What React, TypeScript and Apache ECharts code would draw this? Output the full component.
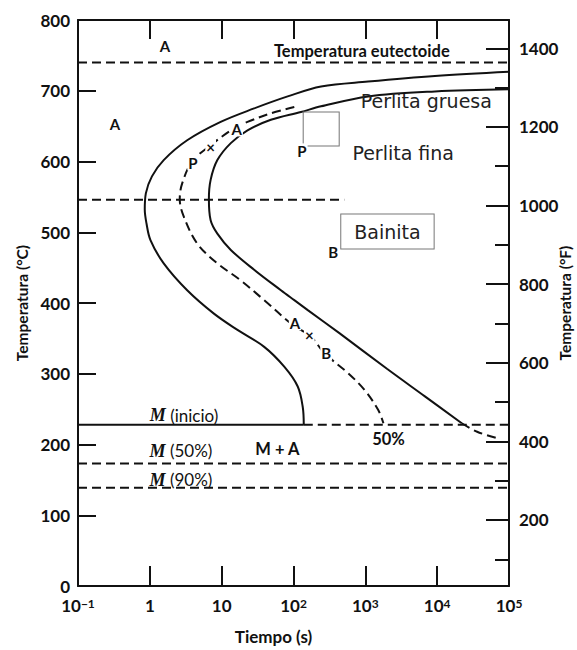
import React, { useEffect, useRef } from "react";
import * as echarts from "echarts";

// ---- axis ranges and tick labels ----
const timeRange = [0.1, 100000];
const celsiusRange = [0, 800];
const fahrenheitRange = [32, 1472];
const xTickLabels = ["10{s|−1}", "1", "10", "10{s|2}", "10{s|3}", "10{s|4}", "10{s|5}"];

// ---- curves: [time (s), temperature (°C)] ----
const startCurve: [number, number][] = [
  [100000, 727], [9310, 721], [1091, 713], [242, 706], [83, 692], [28.3, 675],
  [9.68, 656], [3.31, 630], [1.56, 602], [1.07, 579], [0.88, 555], [0.85, 532],
  [0.9, 512], [1.02, 489], [1.56, 456], [3.31, 418], [7.8, 385], [16.6, 362],
  [39.1, 338], [74.3, 310], [114.5, 282], [134.5, 253], [139, 228],
];
const finishCurve: [number, number][] = [
  [100000, 702], [9310, 699], [1091, 692], [242, 678], [127, 670], [48.4, 659],
  [22.9, 644], [13.4, 626], [8.71, 602], [7.02, 574], [6.64, 547], [7.02, 517],
  [8.71, 498], [13.4, 475], [28.3, 447], [66.8, 418], [102.6, 404], [158, 390],
  [440, 357], [2000, 307], [6750, 268], [22000, 230],
];
const finishBelowMs: [number, number][] = [[22000, 230], [36000, 218], [68000, 209]];
const halfCurve: [number, number][] = [
  [102.6, 677], [48.4, 668], [22.9, 656], [14.9, 647], [7.02, 623], [3.89, 600],
  [2.82, 569], [2.61, 547], [2.97, 522], [4.57, 484], [8.71, 456], [18.4, 432],
  [39.1, 404], [92.3, 371], [176, 352], [270, 329], [573, 301], [977, 277],
  [1506, 249], [1786, 230],
];

// ---- horizontal reference temperatures (°C) ----
const eutectoidTemp = 740;
const noseTemp = 546;
const noseLineEndTime = 508;
const msTemp = 228;
const msSolidEndTime = 139;
const m50Temp = 173;
const m90Temp = 139;

// ---- annotations: [time, temperature] ----
const letterMarks = [
  { text: "A", t: 1.62, T: 763 },
  { text: "A", t: 0.326, T: 653 },
  { text: "P", t: 3.99, T: 598 },
  { text: "×", t: 7.02, T: 621 },
  { text: "A", t: 16.2, T: 646 },
  { text: "P", t: 131, T: 615 },
  { text: "B", t: 357, T: 472 },
  { text: "A", t: 105, T: 372 },
  { text: "×", t: 166, T: 355 },
  { text: "B", t: 285, T: 329 },
];
const plainMarks = [
  { text: "Temperatura eutectoide", t: 893, T: 756 },
  { text: "M + A", t: 59.7, T: 194 },
  { text: "50%", t: 2099, T: 208 },
];
const martensiteMarks = [
  { text: "{m|M} (inicio)", t: 2.99, T: 241 },
  { text: "{m|M} (50%)", t: 2.71, T: 191 },
  { text: "{m|M} (90%)", t: 2.71, T: 150 },
];
const phaseMarks = [
  { text: "Perlita gruesa", t: 7063, T: 685 },
  { text: "Perlita fina", t: 3365, T: 612 },
];
const boxedMarks = [{ text: "Bainita", t: 2032, T: 501 }];
const emptyBox = [{ t: 243, T: 646 }];

const INK = "#111";
const SANS = "Lato";

function lineSeries(data: [number, number][], dashed: boolean) {
  return {
    type: "line",
    data,
    showSymbol: false,
    symbol: "none",
    smooth: 0.35,
    lineStyle: { color: INK, width: 2, type: dashed ? [9, 5] : "solid" },
    z: 3,
    silent: true,
  };
}

function hLine(temp: number, from: number, to: number, dashed: boolean) {
  return {
    type: "line",
    data: [[from, temp], [to, temp]],
    showSymbol: false,
    symbol: "none",
    lineStyle: { color: INK, width: 2, type: dashed ? [9, 5] : "solid" },
    z: 3,
    silent: true,
  };
}

function labelSeries(marks: { text: string; t: number; T: number }[], label: any, z = 5) {
  return {
    type: "scatter",
    symbolSize: 1,
    itemStyle: { color: "rgba(255,255,255,0)", opacity: 1 },
    silent: true,
    z,
    data: marks.map((m) => ({ value: [m.t, m.T], label: { formatter: m.text } })),
    label: {
      show: true,
      position: "inside",
      opacity: 1,
      textBorderWidth: 0,
      textBorderColor: "transparent",
      ...label,
    },
  };
}

export default function App() {
  const ref = useRef<HTMLDivElement>(null);
  useEffect(() => {
    if (!ref.current) return;
    const chart = echarts.init(ref.current, undefined, { renderer: "svg" });
    const axisFont = { fontFamily: SANS, fontWeight: "bold", fontSize: 17, color: INK };
    chart.setOption({
      animation: false,
      backgroundColor: "#fff",
      grid: { left: 78, right: 68, top: 20, bottom: 64, outerBoundsMode: "none", containLabel: false },
      xAxis: [
        {
          type: "log",
          logBase: 10,
          min: timeRange[0],
          max: timeRange[1],
          splitNumber: 6,
          position: "bottom",
          axisLine: { lineStyle: { color: INK, width: 2 } },
          axisTick: { inside: true, length: 20, lineStyle: { color: INK, width: 2 } },
          splitLine: { show: false },
          axisLabel: {
            ...axisFont,
            margin: 11,
            formatter: (v: number) => xTickLabels[Math.round(Math.log10(v)) + 1] ?? "",
            rich: { s: { fontFamily: SANS, fontWeight: "bold", fontSize: 12, verticalAlign: "top", color: INK } },
          },
          name: "Tiempo (s)",
          nameLocation: "middle",
          nameGap: 42,
          nameMoveOverlap: false,
          nameTextStyle: { ...axisFont, fontSize: 17, padding: [0, 40, 0, 0] },
        },
        {
          type: "log",
          logBase: 10,
          min: timeRange[0],
          max: timeRange[1],
          splitNumber: 6,
          position: "top",
          axisLine: { lineStyle: { color: INK, width: 2 } },
          axisTick: { inside: true, length: 19, lineStyle: { color: INK, width: 2 } },
          splitLine: { show: false },
          axisLabel: { show: false },
        },
      ],
      yAxis: [
        {
          type: "value",
          min: celsiusRange[0],
          max: celsiusRange[1],
          interval: 100,
          position: "left",
          axisLine: { show: true, lineStyle: { color: INK, width: 2 } },
          axisTick: { show: true, inside: true, length: 18, lineStyle: { color: INK, width: 2 } },
          splitLine: { show: false },
          axisLabel: { ...axisFont, margin: 8 },
          name: "Temperatura (°C)",
          nameLocation: "middle",
          nameRotate: 90,
          nameGap: 48,
          nameMoveOverlap: false,
          nameTextStyle: { ...axisFont, fontSize: 15.5 },
        },
        {
          type: "value",
          min: fahrenheitRange[0],
          max: fahrenheitRange[1],
          splitNumber: 7,
          position: "right",
          axisLine: { show: true, lineStyle: { color: INK, width: 2 } },
          axisTick: { show: true, inside: true, length: 23, lineStyle: { color: INK, width: 2 } },
          splitLine: { show: false },
          axisLabel: {
            ...axisFont,
            margin: 10,
            formatter: (v: number) => (v % 200 === 0 ? String(v) : ""),
          },
          name: "Temperatura (°F)",
          nameLocation: "middle",
          nameRotate: 90,
          nameGap: 48,
          nameMoveOverlap: false,
          nameTextStyle: { ...axisFont, fontSize: 15.5 },
        },
        {
          type: "value",
          min: fahrenheitRange[0],
          max: fahrenheitRange[1],
          splitNumber: 14,
          position: "right",
          axisLine: { show: false },
          axisTick: { show: true, inside: true, length: 14, lineStyle: { color: INK, width: 2 } },
          splitLine: { show: false },
          axisLabel: { show: false },
        },
      ],
      series: [
        lineSeries(startCurve, false),
        lineSeries(finishCurve, false),
        lineSeries(finishBelowMs, true),
        lineSeries(halfCurve, true),
        hLine(eutectoidTemp, timeRange[0], timeRange[1], true),
        hLine(noseTemp, timeRange[0], noseLineEndTime, true),
        hLine(msTemp, timeRange[0], msSolidEndTime, false),
        hLine(msTemp, msSolidEndTime, timeRange[1], true),
        hLine(m50Temp, timeRange[0], timeRange[1], true),
        hLine(m90Temp, timeRange[0], timeRange[1], true),
        labelSeries(letterMarks, {
          fontFamily: SANS,
          fontWeight: "bold",
          fontSize: 15,
          color: INK,
          backgroundColor: "#fff",
          padding: [0, 1],
        }),
        labelSeries(plainMarks, { fontFamily: SANS, fontWeight: "bold", fontSize: 16.5, color: INK }),
        labelSeries(martensiteMarks, {
          fontFamily: SANS,
          fontSize: 17,
          color: INK,
          rich: {
            m: { fontFamily: "Liberation Serif", fontStyle: "italic", fontWeight: "bold", fontSize: 18, color: INK },
          },
        }),
        labelSeries(phaseMarks, { fontFamily: "DejaVu Sans", fontSize: 19, color: "#222" }),
        labelSeries(boxedMarks, {
          fontFamily: "DejaVu Sans",
          fontSize: 19,
          color: "#222",
          backgroundColor: "#fff",
          borderColor: "#777",
          borderWidth: 1,
          padding: [8, 13, 7, 13],
        }),
        {
          type: "scatter",
          symbol: "rect",
          symbolSize: [36, 34],
          itemStyle: { color: "rgba(255,255,255,0)", borderColor: "#777", borderWidth: 1, opacity: 1 },
          silent: true,
          z: 4,
          data: emptyBox.map((b) => [b.t, b.T]),
        },
      ],
    });
    return () => chart.dispose();
  }, []);
  return (
    <div
      ref={ref}
      style={{ position: "fixed", left: 0, top: 0, width: 577, height: 650, background: "#fff" }}
    />
  );
}
